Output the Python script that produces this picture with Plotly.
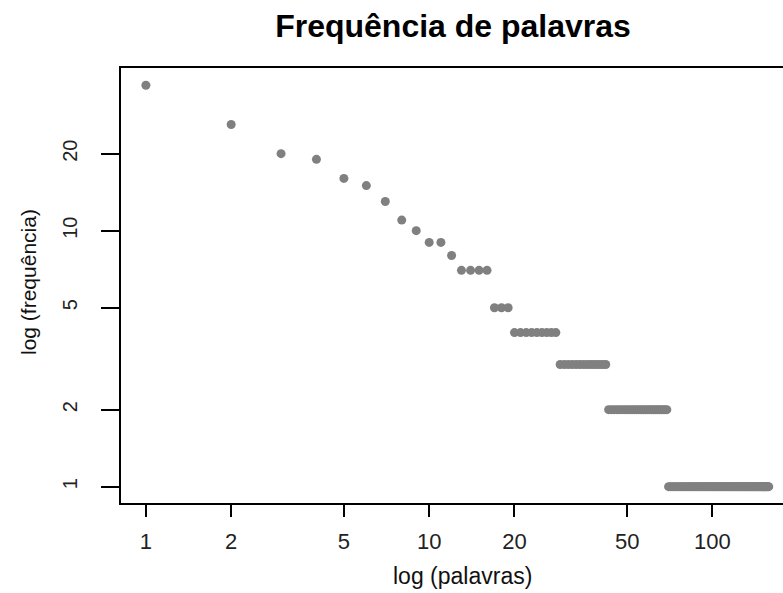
import numpy as np
import plotly.graph_objects as go

# distinct word frequencies (descending) and how many words share each
freq_values = [37, 26, 20, 19, 16, 15, 13, 11, 10, 9, 8, 7, 5, 4, 3, 2, 1]
word_counts = [1, 1, 1, 1, 1, 1, 1, 1, 1, 2, 1, 4, 3, 9, 14, 27, 89]

x_ticks = [1, 2, 5, 10, 20, 50, 100]
y_ticks = [1, 2, 5, 10, 20]

freqs = np.repeat(freq_values, word_counts)
ranks = np.arange(1, len(freqs) + 1)

fig = go.Figure(go.Scatter(
    x=ranks, y=freqs, mode="markers",
    marker=dict(color="#808080", size=9, line=dict(width=0)),
    hoverinfo="x+y",
))

W, H = 783, 593
L, R, T, B = 121, 0, 68, 90
pw, ph = W - L - R, H - T - B

fig.update_layout(
    width=W, height=H,
    margin=dict(l=L, r=R, t=T, b=B),
    paper_bgcolor="white", plot_bgcolor="white",
    showlegend=False,
    font=dict(family="Liberation Sans, Arial, sans-serif", color="#222222"),
    title=dict(text="<b>Frequência de palavras</b>", x=453 / W, xanchor="center",
               y=1 - 26 / H, yanchor="middle", font=dict(size=32, color="black")),
)

fig.update_xaxes(
    type="log", range=[-0.0879, 2.249],
    tickvals=x_ticks, ticktext=[str(v) for v in x_ticks],
    ticks="outside", ticklen=12, tickwidth=1.5, tickcolor="black",
    showline=True, linecolor="black", linewidth=1.5, mirror=True,
    showgrid=False, zeroline=False,
    tickfont=dict(size=22, color="#222222"), ticklabelstandoff=6,
)
fig.update_yaxes(
    type="log", range=[-0.0637, 1.6355],
    tickvals=y_ticks, ticktext=[str(v) for v in y_ticks],
    ticks="outside", ticklen=18, tickwidth=1.5, tickcolor="black",
    showline=True, linecolor="black", linewidth=1.5, mirror=False,
    showgrid=False, zeroline=False, tickangle=-90,
    tickfont=dict(size=20, color="#222222"), ticklabelstandoff=16,
)

fig.add_annotation(text="log (palavras)", xref="paper", yref="paper",
                   x=(462 - L) / pw, y=(H - B - 576) / ph, xanchor="center", yanchor="middle",
                   showarrow=False, font=dict(size=23, color="#111111"))
fig.add_annotation(text="log (frequência)", xref="paper", yref="paper",
                   x=(28 - L) / pw, y=(H - B - 282) / ph, xanchor="center", yanchor="middle",
                   textangle=-90, showarrow=False, font=dict(size=21, color="#111111"))

fig.write_html("out.html", config={"displayModeBar": False},
               post_script="document.body.style.margin='0';document.body.style.overflow='hidden';")
